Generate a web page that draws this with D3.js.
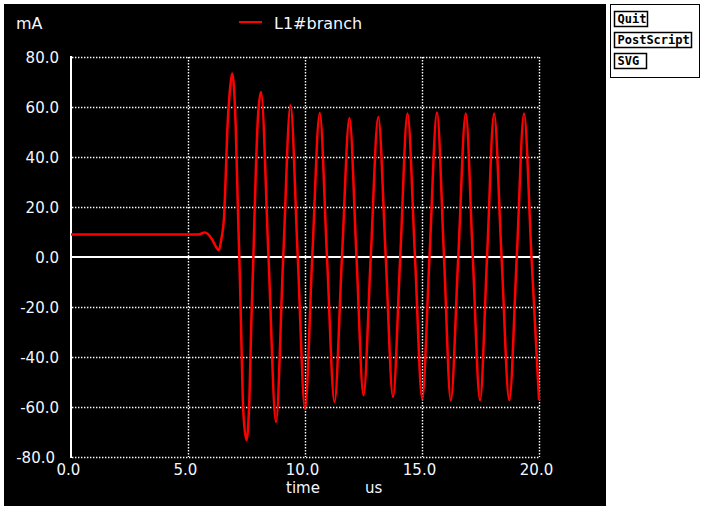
<!DOCTYPE html>
<html><head><meta charset="utf-8">
<script src="https://cdn.jsdelivr.net/npm/d3@7/dist/d3.min.js"></script>
<style>
html,body{margin:0;padding:0;background:#fff;}
svg{display:block;}
</style></head>
<body>
<svg id="chart" width="704" height="510"></svg>
<script>
// ---- data ----
const timeUs = [0, 5.45, 5.72, 6.0, 6.2, 6.32, 6.42, 6.54, 6.61, 6.68, 6.79, 6.89,
  7.04, 7.13, 7.22, 7.29, 7.36, 7.50, 7.63, 7.70, 7.79, 7.89, 7.99, 8.12,
  8.44, 8.76, 9.07, 9.38, 9.69, 10.00, 10.31, 10.63, 10.94, 11.26, 11.58, 11.90,
  12.20, 12.50, 12.81, 13.13, 13.45, 13.76, 14.07, 14.38, 14.70, 15.01, 15.32, 15.64,
  15.94, 16.23, 16.55, 16.87, 17.17, 17.48, 17.78, 18.08, 18.40, 18.73, 19.05, 19.36,
  19.68, 20.0];
const branchmA = [9.0, 9.0, 9.8, 7.5, 4.0, 2.7, 7.0, 16, 32, 50.7, 66.7, 73.4,
  52, 20, -9.3, -37.3, -61.3, -73.3, -54.7, -28, -1.3, 32, 56, 66.0,
  0, -66.0, 0, 60.7, 0, -60.6, 0, 57.6, 0, -58.0, 0, 55.6,
  0, -55.3, 0, 56.0, 0, -56.0, 0, 57.4, 0, -56.7, 0, 57.8,
  0, -57.3, 0, 57.4, 0, -57.3, 0, 57.4, 0, -57.3, 0, 57.4,
  0, -57.3];
const xTicks = [0, 5, 10, 15, 20];
const yTicks = [-80, -60, -40, -20, 0, 20, 40, 60, 80];
const seriesName = "L1#branch";
const yUnit = "mA";
const xName = "time";
const xUnit = "us";
const buttons = ["Quit", "PostScript", "SVG"];

// ---- drawing ----
const svg = d3.select("#chart");
const font = "DejaVu Sans, sans-serif";
const txt = "#f4f6ff";

svg.append("rect").attr("x", 4).attr("y", 4).attr("width", 602).attr("height", 502).attr("fill", "#000");

const x = d3.scaleLinear().domain([0, 20]).range([71, 539]);
const y = d3.scaleLinear().domain([-80, 80]).range([457, 57]);

const g = svg.append("g");
// dotted grid
const dot = {stroke: "#fff", "stroke-width": 1.4, "stroke-dasharray": "1.4,1.6"};
function applyAttrs(sel, a){ for (const k in a) sel.attr(k, a[k]); return sel; }
applyAttrs(g.selectAll("line.vg").data(xTicks.filter(d => d !== 0)).join("line")
  .attr("class", "vg")
  .attr("x1", d => Math.round(x(d)) + 0.5).attr("x2", d => Math.round(x(d)) + 0.5)
  .attr("y1", y(80)).attr("y2", y(-80)), dot);
applyAttrs(g.selectAll("line.hg").data(yTicks.filter(d => d !== 0)).join("line")
  .attr("class", "hg")
  .attr("x1", x(0) + 1).attr("x2", x(20))
  .attr("y1", d => Math.round(y(d)) + 0.5).attr("y2", d => Math.round(y(d)) + 0.5), dot);
// zero line and left axis
g.append("line").attr("x1", x(0)).attr("x2", x(20) + 0.5).attr("y1", y(0)).attr("y2", y(0))
  .attr("stroke", "#fff").attr("stroke-width", 2);
g.append("line").attr("x1", x(0)).attr("x2", x(0)).attr("y1", y(80) - 1).attr("y2", y(-80) + 1)
  .attr("stroke", "#fff").attr("stroke-width", 2);

// series
const pts = timeUs.map((t, i) => [t, branchmA[i]]);
const line = d3.line().x(d => x(d[0])).y(d => y(d[1])).curve(d3.curveMonotoneX);
g.append("path").attr("d", line(pts)).attr("fill", "none")
  .attr("stroke", "#ff0000").attr("stroke-width", 2.5).attr("stroke-linejoin", "round");

// y tick labels
svg.selectAll("text.yl").data(yTicks).join("text").attr("class", "yl")
  .attr("x", d => d === -80 ? 55 : 59)
  .attr("y", d => d === -80 ? y(d) + 6 : y(d) + 5.5)
  .attr("text-anchor", "end").attr("font-family", font).attr("font-size", 15)
  .attr("fill", txt).text(d => d.toFixed(1));
// x tick labels
svg.selectAll("text.xl").data(xTicks).join("text").attr("class", "xl")
  .attr("x", d => x(d) - 2.5).attr("y", 475)
  .attr("text-anchor", "middle").attr("font-family", font).attr("font-size", 15)
  .attr("fill", txt).text(d => d.toFixed(1));
// axis names
svg.append("text").attr("x", 286).attr("y", 493).attr("font-family", font).attr("font-size", 15)
  .attr("fill", txt).text(xName);
svg.append("text").attr("x", 365).attr("y", 493).attr("font-family", font).attr("font-size", 15)
  .attr("fill", txt).text(xUnit);
svg.append("text").attr("x", 16).attr("y", 29).attr("font-family", font).attr("font-size", 16)
  .attr("fill", txt).text(yUnit);
// legend
svg.append("line").attr("x1", 239).attr("x2", 262).attr("y1", 22).attr("y2", 22)
  .attr("stroke", "#ff0000").attr("stroke-width", 2);
svg.append("text").attr("x", 274).attr("y", 29).attr("font-family", font).attr("font-size", 16)
  .attr("fill", txt).text(seriesName);

// button panel
svg.append("rect").attr("x", 610.5).attr("y", 4.5).attr("width", 89).attr("height", 73)
  .attr("fill", "#fff").attr("stroke", "#000").attr("stroke-width", 1);
const bw = {"Quit": 33, "PostScript": 77, "SVG": 32};
const bg = svg.selectAll("g.btn").data(buttons).join("g").attr("class", "btn")
  .attr("transform", (d, i) => `translate(614.5,${11.5 + i * 21})`);
bg.append("rect").attr("width", d => bw[d]).attr("height", 15).attr("fill", "#fff")
  .attr("stroke", "#000").attr("stroke-width", 1.5);
bg.append("text").attr("x", 3).attr("y", 11.5).attr("font-family", "DejaVu Sans Mono, monospace")
  .attr("font-weight", "bold").attr("font-size", 12).attr("fill", "#000").text(d => d);
</script>
</body></html>
